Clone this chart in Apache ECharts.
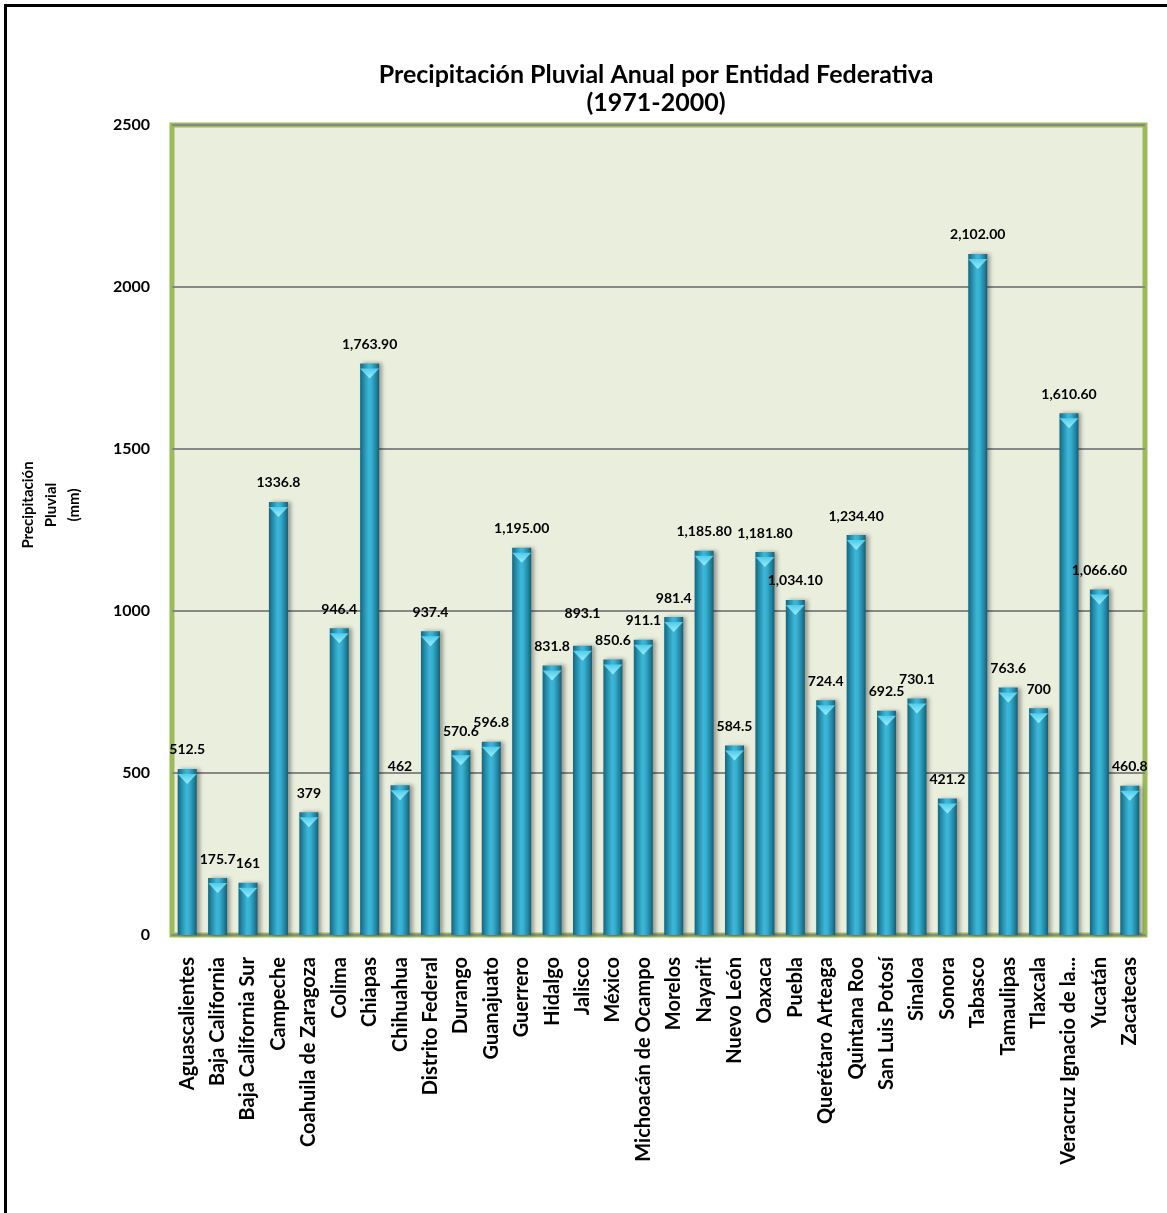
<!DOCTYPE html>
<html>
<head>
<meta charset="utf-8">
<script src="https://cdn.jsdelivr.net/npm/echarts@6/dist/echarts.min.js"></script>
<style>
  html, body { margin: 0; padding: 0; background: #ffffff; }
  #chart { width: 1167px; height: 1213px; }
</style>
</head>
<body>
<div id="chart"></div>
<script>
// Precipitación pluvial anual (mm) por entidad federativa, normal 1971-2000
const estados = [
  'Aguascalientes', 'Baja California', 'Baja California Sur', 'Campeche',
  'Coahuila de Zaragoza', 'Colima', 'Chiapas', 'Chihuahua', 'Distrito Federal',
  'Durango', 'Guanajuato', 'Guerrero', 'Hidalgo', 'Jalisco', 'México',
  'Michoacán de Ocampo', 'Morelos', 'Nayarit', 'Nuevo León', 'Oaxaca', 'Puebla',
  'Querétaro Arteaga', 'Quintana Roo', 'San Luis Potosí', 'Sinaloa', 'Sonora',
  'Tabasco', 'Tamaulipas', 'Tlaxcala', 'Veracruz Ignacio de la Llave', 'Yucatán',
  'Zacatecas'
];

const precipitacion = [
  512.5, 175.7, 161, 1336.8,
  379, 946.4, 1763.9, 462, 937.4,
  570.6, 596.8, 1195.0, 831.8, 893.1, 850.6,
  911.1, 981.4, 1185.8, 584.5, 1181.8, 1034.1,
  724.4, 1234.4, 692.5, 730.1, 421.2,
  2102.0, 763.6, 700, 1610.6, 1066.6,
  460.8
];

// Texto de cada etiqueta tal como se publica (formatos mixtos en la fuente)
const etiquetas = [
  '512.5', '175.7', '161', '1336.8',
  '379', '946.4', '1,763.90', '462', '937.4',
  '570.6', '596.8', '1,195.00', '831.8', '893.1', '850.6',
  '911.1', '981.4', '1,185.80', '584.5', '1,181.80', '1,034.10',
  '724.4', '1,234.40', '692.5', '730.1', '421.2',
  '2,102.00', '763.6', '700', '1,610.60', '1,066.60',
  '460.8'
];

const ejeY = { min: 0, max: 2500, paso: 500 };

// Etiquetas desplazadas hacia arriba para evitar encimarse (px extra)
const elevacionEtiqueta = { 'Jalisco': 13 };

const FUENTE = 'Lato, "Open Sans", sans-serif';

const chart = echarts.init(document.getElementById('chart'), null, { renderer: 'canvas' });

const barFill = new echarts.graphic.LinearGradient(0, 0, 1, 0, [
  { offset: 0.00, color: '#17647b' },
  { offset: 0.18, color: '#2389a6' },
  { offset: 0.45, color: '#3cb7d9' },
  { offset: 0.60, color: '#37afd1' },
  { offset: 0.85, color: '#1f829e' },
  { offset: 1.00, color: '#155c72' }
]);

const capFill = new echarts.graphic.LinearGradient(0, 0, 0, 1, [
  { offset: 0, color: '#9aeefc' },
  { offset: 1, color: '#4fcbea' }
]);

chart.setOption({
  animation: false,
  backgroundColor: '#ffffff',
  textStyle: { fontFamily: FUENTE },
  title: {
    text: 'Precipitación Pluvial Anual por Entidad Federativa\n(1971-2000)',
    left: 651,
    top: 56,
    textAlign: 'center',
    textStyle: {
      fontFamily: FUENTE,
      fontSize: 25,
      fontWeight: 'bold',
      color: '#000000',
      lineHeight: 28
    }
  },
  grid: {
    left: 172,
    right: 22,
    top: 125,
    bottom: 278,
    show: true,
    backgroundColor: '#eaeedd',
    borderColor: '#9bbb59',
    borderWidth: 5
  },
  xAxis: {
    type: 'category',
    data: estados,
    axisTick: { show: false },
    axisLine: { show: true, lineStyle: { color: '#8a8a8a', width: 2 } },
    axisLabel: {
      interval: 0,
      rotate: 90,
      margin: 22,
      fontFamily: FUENTE,
      fontSize: 20,
      fontWeight: 'bold',
      color: '#000000',
      width: 212,
      overflow: 'truncate'
    }
  },
  yAxis: {
    type: 'value',
    min: ejeY.min,
    max: ejeY.max,
    interval: ejeY.paso,
    axisLine: { show: false },
    axisTick: { show: false },
    axisLabel: {
      margin: 22,
      fontFamily: FUENTE,
      fontSize: 16,
      fontWeight: 'bold',
      color: '#000000',
      formatter: v => String(v)
    },
    splitLine: { lineStyle: { color: '#878787', width: 2 } }
  },
  graphic: [
    {
      type: 'text',
      x: 51,
      y: 505,
      rotation: Math.PI / 2,
      style: {
        text: 'Precipitación\nPluvial\n(mm)',
        font: 'bold 15px ' + FUENTE,
        fill: '#000000',
        align: 'center',
        verticalAlign: 'middle',
        lineHeight: 23
      }
    },
    {
      type: 'line',
      shape: { x1: 5.5, y1: 5, x2: 5.5, y2: 1213 },
      style: { stroke: '#000000', lineWidth: 3 }
    },
    {
      type: 'line',
      shape: { x1: 4, y1: 5.5, x2: 1167, y2: 5.5 },
      style: { stroke: '#000000', lineWidth: 3 }
    }
  ],
  series: [
    {
      type: 'bar',
      barWidth: 19,
      data: precipitacion.map((v, i) => ({
        value: v,
        label: { distance: 12 + (elevacionEtiqueta[estados[i]] || 0) }
      })),
      itemStyle: {
        color: barFill,
        shadowColor: 'rgba(0,0,0,0.35)',
        shadowBlur: 4,
        shadowOffsetX: 3,
        shadowOffsetY: 0
      },
      label: {
        show: true,
        position: 'top',
        fontFamily: FUENTE,
        fontSize: 14,
        fontWeight: 'bold',
        color: '#000000',
        formatter: p => etiquetas[p.dataIndex]
      },
      z: 2
    },
    {
      type: 'pictorialBar',
      data: precipitacion,
      barGap: '-100%',
      symbol: 'triangle',
      symbolRotate: 180,
      symbolSize: [19, 10],
      symbolPosition: 'end',
      symbolOffset: [0, '50%'],
      itemStyle: { color: capFill },
      silent: true,
      z: 3
    }
  ]
});
</script>
</body>
</html>
